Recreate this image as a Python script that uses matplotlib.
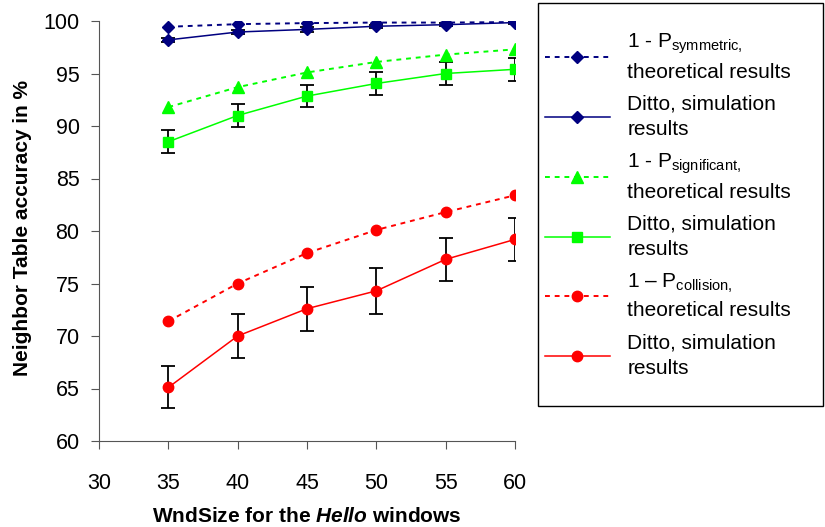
import matplotlib
matplotlib.use("Agg")
import matplotlib.pyplot as plt
from matplotlib.patches import Rectangle

plt.rcParams["font.family"] = "Liberation Sans"
plt.rcParams["mathtext.fontset"] = "custom"
plt.rcParams["mathtext.rm"] = "Liberation Sans"
plt.rcParams["mathtext.it"] = "Liberation Sans:italic"
plt.rcParams["mathtext.bf"] = "Liberation Sans:bold"
plt.rcParams["mathtext.bfit"] = "Liberation Sans:italic:bold"

# data
wnd_size = [35, 40, 45, 50, 55, 60]

sym_theory = [99.45, 99.7, 99.8, 99.85, 99.85, 99.9]
sym_sim = [98.2, 98.95, 99.2, 99.5, 99.65, 99.85]
sym_err = [0.2, 0.2, 0.2, 0.15, 0.15, 0.15]

sig_theory = [91.8, 93.7, 95.1, 96.1, 96.8, 97.3]
sig_sim = [88.5, 91.0, 92.85, 94.05, 95.0, 95.4]
sig_err = [1.1, 1.1, 1.05, 1.05, 1.1, 1.1]

col_theory = [71.4, 75.0, 77.9, 80.1, 81.8, 83.4]
col_sim = [65.1, 70.0, 72.6, 74.3, 77.3, 79.2]
col_err = [2.0, 2.1, 2.1, 2.2, 2.05, 2.05]

labels = [
    "1 - P$_{\\mathrm{symmetric},}$\ntheoretical results",
    "Ditto, simulation\nresults",
    "1 - P$_{\\mathrm{significant},}$\ntheoretical results",
    "Ditto, simulation\nresults",
    "1 \u2013 P$_{\\mathrm{collision},}$\ntheoretical results",
    "Ditto, simulation\nresults",
]

NAVY = "#000080"
GREEN = "#00ff00"
RED = "#ff0000"
DOT = (0, (2.5, 2.5))

fig = plt.figure(figsize=(8.25, 5.27), dpi=100)
ax = fig.add_axes([99 / 825, 1 - 441 / 527, (515 - 99) / 825, (441 - 21) / 527])

err_kw = dict(ecolor="black", elinewidth=1.3, capsize=5, capthick=1.3)

h = []
h += ax.plot(wnd_size, sym_theory, color=NAVY, ls=DOT, lw=1.4, marker="D", ms=6.5, zorder=4)
ax.errorbar(wnd_size, sym_sim, yerr=sym_err, fmt="none", zorder=2, **err_kw)
h += ax.plot(wnd_size, sym_sim, color=NAVY, lw=1.1, marker="D", ms=6.5, zorder=3)

h += ax.plot(wnd_size, sig_theory, color=GREEN, ls=DOT, lw=1.4, marker="^", ms=8, zorder=4)
ax.errorbar(wnd_size, sig_sim, yerr=sig_err, fmt="none", zorder=2, **err_kw)
h += ax.plot(wnd_size, sig_sim, color=GREEN, lw=1.1, marker="s", ms=7, zorder=3)

h += ax.plot(wnd_size, col_theory, color=RED, ls=DOT, lw=1.4, marker="o", ms=7.5, zorder=4)
ax.errorbar(wnd_size, col_sim, yerr=col_err, fmt="none", zorder=2, **err_kw)
h += ax.plot(wnd_size, col_sim, color=RED, lw=1.1, marker="o", ms=7.5, zorder=3)

ax.set_xlim(30, 60)
ax.set_ylim(60, 100)
ax.set_xticks(range(30, 61, 5))
ax.set_yticks(range(60, 101, 5))
for s in ["top", "right"]:
    ax.spines[s].set_visible(False)
for s in ["left", "bottom"]:
    ax.spines[s].set_color("#555555")
ax.tick_params(direction="out", length=6, color="#555555", labelsize=15.5)
ax.tick_params(axis="x", pad=17)
ax.tick_params(axis="y", pad=8)
for lab in ax.get_xticklabels() + ax.get_yticklabels():
    lab.set_clip_on(False)

ax.set_xlabel("WndSize for the $\\mathbfit{Hello}$ windows", fontsize=15, fontweight="bold", va="center")
ax.set_ylabel("Neighbor Table accuracy in %", fontsize=15, fontweight="bold", va="center")
ax.xaxis.set_label_coords((307 - 99) / (515 - 99), -(516 - 441) / 420)
ax.yaxis.set_label_coords(-(99 - 23) / 416, (441 - 228) / 420)

fig.patches.append(Rectangle((538 / 825, 1 - 406 / 527), (823 - 538) / 825, (406 - 3) / 527,
                             transform=fig.transFigure, fill=False, edgecolor="black", lw=1))
leg = fig.legend(h, labels, loc="upper left", bbox_to_anchor=(545 / 825, 1 - 32 / 527),
                 frameon=False, fontsize=15, borderpad=0, borderaxespad=0, numpoints=1,
                 handlelength=3.1, handletextpad=0.85, labelspacing=0.62)
for t in leg.get_texts():
    t.set_linespacing(1.42)

fig.savefig("out.png", dpi=100)
